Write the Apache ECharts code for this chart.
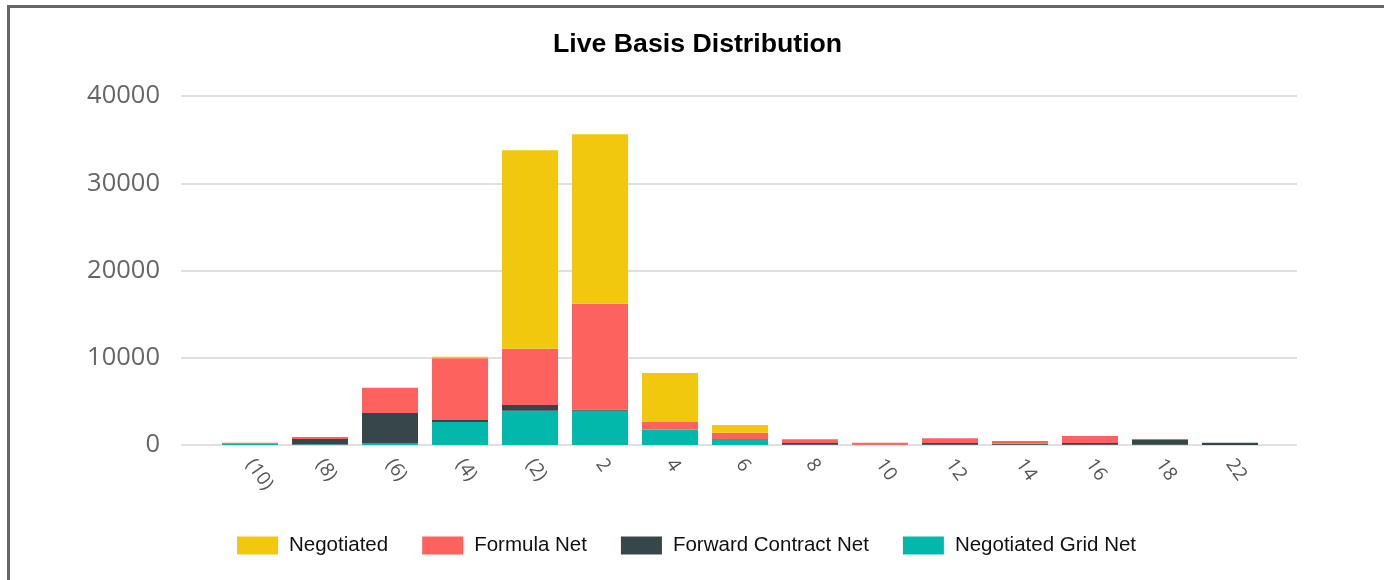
<!DOCTYPE html>
<html>
<head>
<meta charset="utf-8">
<script src="https://cdn.jsdelivr.net/npm/echarts@6/dist/echarts.min.js"></script>
<style>
  html, body { margin: 0; padding: 0; background: #fff; }
  #main { width: 1384px; height: 580px; }
</style>
</head>
<body>
<div id="main"></div>
<script>
const categories = ['(10)', '(8)', '(6)', '(4)', '(2)', '2', '4', '6', '8', '10', '12', '14', '16', '18', '22'];
const negotiatedGridNet = [200, 60, 230, 2630, 3930, 3930, 1750, 690, 40, 0, 30, 20, 30, 20, 0];
const forwardContractNet = [0, 620, 3440, 230, 650, 110, 0, 0, 200, 40, 200, 130, 200, 550, 260];
const formulaNet = [60, 240, 2890, 7070, 6450, 12150, 880, 720, 420, 220, 540, 310, 800, 120, 0];
const negotiated = [0, 0, 0, 180, 22760, 19430, 5620, 880, 0, 0, 0, 0, 0, 0, 0];
const yTicks = [0, 10000, 20000, 30000, 40000];

const chart = echarts.init(document.getElementById('main'));

const barSeries = (name, data, color) => ({
  name: name,
  type: 'bar',
  stack: 'total',
  xAxisIndex: 1,
  yAxisIndex: 1,
  barCategoryGap: '20%',
  itemStyle: { color: color },
  data: data
});

const option = {
  backgroundColor: '#fff',
  animation: false,
  title: {
    text: 'Live Basis Distribution',
    left: 548,
    top: 26,
    textStyle: { fontFamily: 'Liberation Sans', fontSize: 26.7, fontWeight: 'bold', color: '#000' }
  },
  legend: {
    left: 232,
    top: 530,
    itemWidth: 41,
    itemHeight: 18,
    itemGap: 34,
    icon: 'rect',
    textStyle: { fontFamily: 'Liberation Sans', fontSize: 20.5, color: '#111', padding: [0, 0, 0, 6] },
    data: ['Negotiated', 'Formula Net', 'Forward Contract Net', 'Negotiated Grid Net']
  },
  graphic: [
    { type: 'rect', shape: { x: 7, y: 5, width: 1384, height: 3 }, style: { fill: '#666' } },
    { type: 'rect', shape: { x: 7, y: 5, width: 3, height: 580 }, style: { fill: '#666' } }
  ],
  grid: [
    { left: 181, right: 87, top: 96, bottom: 135 },
    { left: 215, right: 119, top: 96, bottom: 135 }
  ],
  xAxis: [
    { type: 'category', gridIndex: 0, data: categories, show: false },
    {
      type: 'category',
      gridIndex: 1,
      data: categories,
      axisLine: { show: false },
      axisTick: { show: false },
      axisLabel: {
        rotate: -55,
        align: 'left',
        verticalAlign: 'middle',
        margin: 16,
        fontFamily: 'Open Sans',
        fontSize: 19,
        color: '#555'
      }
    }
  ],
  yAxis: [
    {
      type: 'value',
      gridIndex: 0,
      min: yTicks[0],
      max: yTicks[yTicks.length - 1],
      interval: 10000,
      axisLine: { show: false },
      axisTick: { show: false },
      axisLabel: {
        fontFamily: 'Open Sans',
        fontSize: 25.5,
        color: '#666',
        margin: 21,
        formatter: v => String(v)
      },
      splitLine: { lineStyle: { color: '#e0e0e0', width: 2 } }
    },
    {
      type: 'value',
      gridIndex: 1,
      min: yTicks[0],
      max: yTicks[yTicks.length - 1],
      interval: 10000,
      show: false,
      splitLine: { show: false }
    }
  ],
  series: [
    barSeries('Negotiated Grid Net', negotiatedGridNet, '#01B8AA'),
    barSeries('Forward Contract Net', forwardContractNet, '#374649'),
    barSeries('Formula Net', formulaNet, '#FD625E'),
    barSeries('Negotiated', negotiated, '#F2C80F')
  ]
};

chart.setOption(option);
</script>
</body>
</html>
